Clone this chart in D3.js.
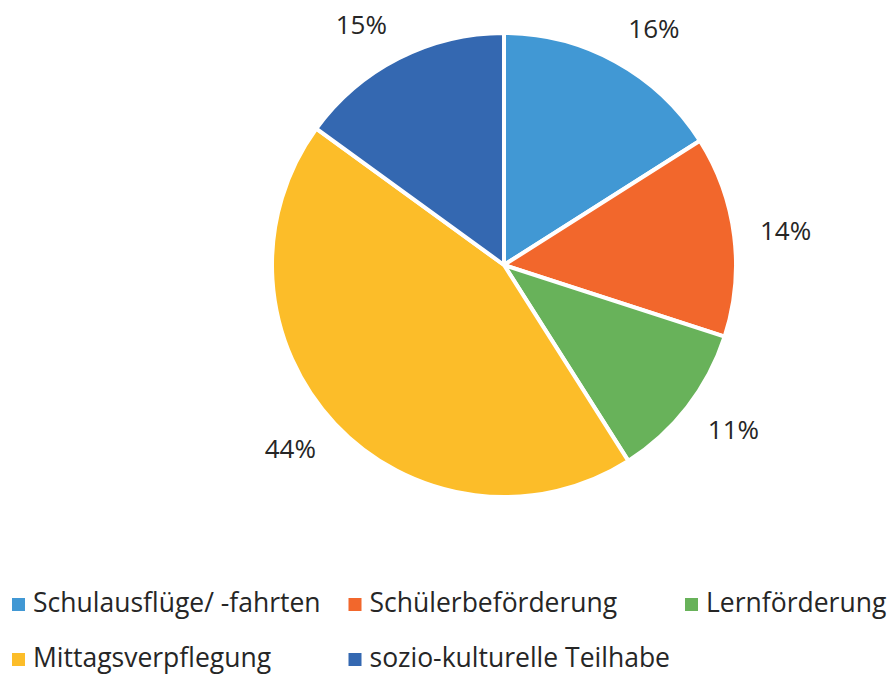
<!DOCTYPE html>
<html>
<head>
<meta charset="utf-8">
<script src="https://cdn.jsdelivr.net/npm/d3@7"></script>
<style>
  body { margin: 0; background: #fff; }
  text { font-family: "Open Sans", sans-serif; fill: #262626; }
</style>
</head>
<body>
<svg id="chart" width="887" height="675"></svg>
<script>
// chart data
var categories = ["Schulausflüge/ -fahrten", "Schülerbeförderung", "Lernförderung", "Mittagsverpflegung", "sozio-kulturelle Teilhabe"];
var values = [16, 14, 11, 44, 15];
var colors = ["#4198d4", "#f2672c", "#68b25a", "#fcbd29", "#3468b1"];

var svg = d3.select("#chart");
var cx = 504, cy = 265, radius = 232;
var labelRadius = 258, labelHeight = 22;

var pie = d3.pie().sort(null).value(function(d) { return d; });
var arcs = pie(values);

var arc = d3.arc().innerRadius(0).outerRadius(radius);

var g = svg.append("g").attr("transform", "translate(" + cx + "," + cy + ")");

// slices
g.selectAll("path")
  .data(arcs)
  .enter().append("path")
  .attr("d", arc)
  .attr("fill", function(d, i) { return colors[i]; })
  .attr("stroke", "#fff")
  .attr("stroke-width", 4)
  .attr("stroke-linejoin", "round");

// percent labels, pushed outside the rim like Excel does
var labels = g.selectAll("text.pct")
  .data(arcs)
  .enter().append("text")
  .attr("class", "pct")
  .attr("text-anchor", "middle")
  .attr("dy", "0.35em")
  .style("font-size", "26px")
  .text(function(d) { return d.data + "%"; });

labels.attr("transform", function(d) {
  var a = (d.startAngle + d.endAngle) / 2,
      s = Math.sin(a), c = Math.cos(a),
      w = this.getComputedTextLength();
  var x = s * labelRadius + (s >= 0 ? 1 : -1) * w / 2,
      y = -c * labelRadius - c * labelHeight / 2;
  return "translate(" + x + "," + y + ")";
});

// legend
var colX = d3.scalePoint().domain([0, 1, 2]).range([12, 685]);
var rowY = d3.scalePoint().domain([0, 1]).range([612, 667]);

var legend = svg.selectAll("g.legend")
  .data(categories)
  .enter().append("g")
  .attr("class", "legend")
  .attr("transform", function(d, i) {
    return "translate(" + colX(i % 3) + "," + rowY(Math.floor(i / 3)) + ")";
  });

legend.append("rect")
  .attr("x", 0)
  .attr("y", -14)
  .attr("width", 13)
  .attr("height", 13)
  .attr("fill", function(d, i) { return colors[i]; });

legend.append("text")
  .attr("x", 21)
  .attr("y", 0)
  .style("font-size", "26.5px")
  .text(function(d) { return d; });
</script>
</body>
</html>
